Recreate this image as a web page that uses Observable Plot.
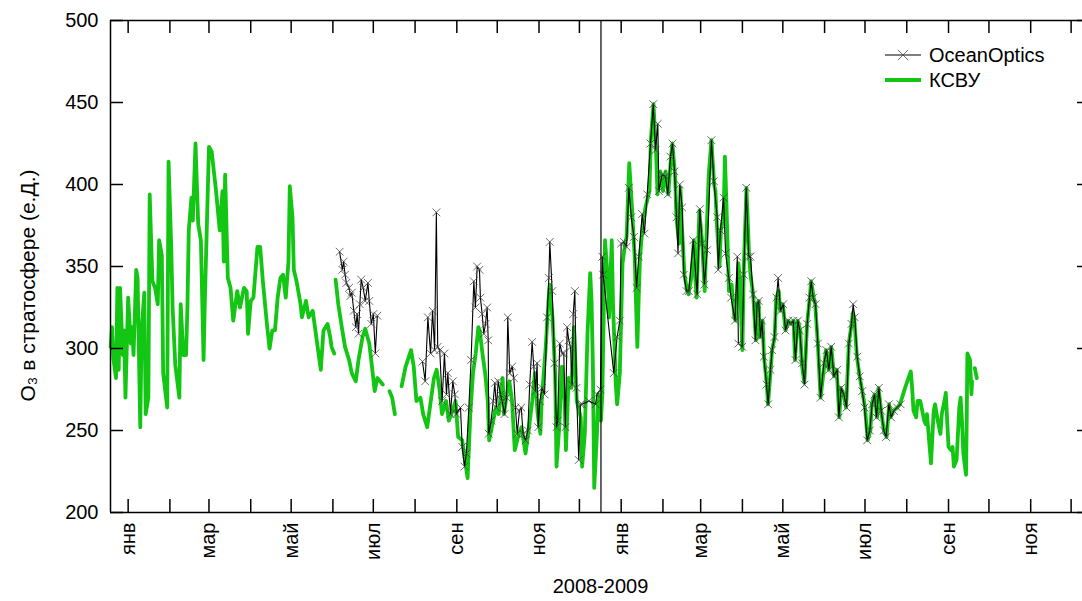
<!DOCTYPE html>
<html><head><meta charset="utf-8">
<script src="https://cdn.jsdelivr.net/npm/d3@7"></script>
<script src="https://cdn.jsdelivr.net/npm/@observablehq/plot@0.6"></script>
<style>html,body{margin:0;padding:0;background:#fff;overflow:hidden}</style>
</head><body><div id="chart"></div>
<script>
// Days counted from 2008-01-01; null = gap in the record
const kDay = [-13,-12,-11,-9,-8,-7,-6,-4,-3,-2,0,2,3,4,6,7,9,10,12,13,15,16,18,20,22,23,25,26,29,30,32,33,35,38,39,41,43,44,45,47,48,50,52,54,56,57,60,62,65,68,70,71,72,74,76,78,81,83,86,88,89,91,93,96,98,100,103,105,107,109,111,113,115,117,119,120,122,123,125,128,129,132,134,137,139,141,143,145,148,150,151,153,153.5,154,156,159,161,164,166,169,171,174,176,179,181,183,185,187,189,191,194,196,198,200,203,206,210,212,214,217,219,222,224,227,229,231,233,236,238,240,243,245,248,250,252,254,256,258,260,261,263,265,267,268,270,273,275,278,279,281,283,285,287,290,292,295,297,300,302,304,306,307,310,312,313,315,317,318,320,322,324,325,327,329,331,333,336,337,339,341,343,344,345,346,348,349,351,352,354,356,357,359,360,361,362,363,365,367,369,370,372,374,376,378,379,380,382,384,387,388,390,392,393,395,397,399,401,403,404,406,407,409,410,411,413,415,416,418,420,421,422,424,426,428,429,431,433,435,436,437,439,440,442,443,444,446,448,450,451,453,454,456,457,459,461,462,464,466,467,468,469,471,472,474,475,477,478,480,481,483,484,486,488,490,492,494,495,497,499,500,502,504,506,507,509,510,512,514,517,518,520,522,524,526,528,529,531,533,535,537,538,539,541,543,545,547,549,551,552,554,556,557,559,561,563,565,566,568,571,573,576,578,581,582,583,585,586,588,589,591,592,593,594,596,597,598,599,601,603,604,606,607,608,609,611,612,613,615,617,618,619,620,622,622.5,623,625,626,626.5,627.5,628.5,630];
const kO3 = [301,313,294,282,337,287,337,296,311,270,331,303,313,296,348,343,252,311,334,260,270,394,341,337,327,366,357,285,264,414,361,325,290,270,327,296,296,325,372,392,378,425,376,366,293,331,423,420,398,372,396,353,406,343,337,317,335,325,337,335,309,329,331,362,362,341,315,300,311,311,331,343,345,331,353,399,380,348,341,327,319,329,319,323,311,299,287,311,315,307,301,297,null,342,327,311,301,293,285,280,293,307,312,303,289,274,282,280,278,null,274,270,260,null,277,289,299,289,268,270,260,252,264,282,287,276,260,268,256,260,268,246,244,232,221,260,285,297,313,311,297,285,268,244,252,264,260,282,260,272,280,268,238,248,252,236,248,268,285,260,248,268,301,329,339,319,285,228,252,289,268,238,282,276,313,268,258,228,248,309,346,329,289,215,248,272,256,272,366,343,319,366,325,303,278,266,285,352,364,368,413,386,356,301,331,356,375,386,396,427,449,417,394,408,396,408,394,417,425,406,380,364,398,376,345,335,333,343,366,343,331,384,366,335,360,406,427,400,396,376,350,372,380,417,392,335,339,319,317,352,343,299,348,398,356,345,333,305,327,329,307,317,295,279,266,287,299,307,331,335,323,327,311,317,315,317,293,317,311,291,279,315,331,341,331,327,303,270,291,299,287,301,283,287,258,276,272,264,303,315,322,319,295,283,274,264,244,250,266,272,258,276,262,250,246,266,258,262,264,266,274,279,286,276,262,258,268,268,264,256,254,260,250,230,246,262,266,256,248,260,268,273,256,240,238,240,228,232,264,270,256,236,223,256,297,293,272,280,null,288,282];

const oDay = [157,159,160,161,162,164,165,166,167.5,169,170,171,172,173,174.5,176,178,179,180.5,182,183.5,185,200,218.5,220.5,222.5,224.5,226,227.5,228.8,229.8,231.3,233.1,234.8,236.3,237.3,239.3,241,242.5,243.7,246.7,248,249.7,251.1,252.9,254.6,256.6,257.8,259.1,260.8,261.5,262.8,264,265.3,266.5,267.3,267.7,269.5,271,272.2,273.4,274.7,276.4,277.6,279.4,280.9,281.8,283.3,285.1,286.3,287.5,288.8,290.5,291.8,293.2,295,296.7,298.1,299.9,301.1,302.4,303.6,304.4,305.6,307.3,309.1,311,312.3,313,314.8,316.5,318,318.9,320.4,322.2,323.4,324.6,325.9,327.1,328.4,329.6,330.4,331.6,332.8,334.5,335.8,337,342,347,348,350.6,352,352.6,360.5,363,365,366,368,370,371.7,373.5,375.5,377.4,379.1,381.6,383.3,385.3,387.8,389.8,391.5,393.2,394,396.4,398.9,400.6,402.6,404.1,405.6,407.1,408.2,409.5,411.3,412.5,414.5,416.2,419.5,422.4,424.4,426.1,427.8,429.8,433,434.8,437.3,438,439.7,442,443.5,445.9,447.6,450.5,452.2,453,455.8,457,458.8,460.7,462,463.9,465.7,466.9,468.1,469.4,470.6,471.9,473.9,475.1,476.8,478.1,479.8,481.3,482.5,484.3,486.3,488,490,491.7,493.7,495.4,497.2,498.6,500.3,502.1,504.1,505.8,507.1,508.5,510.3,512,514,516.5,518.4,520.2,521.9,523.9,526.4,527.6,529.3,531.3,533.3,535,537,538.2,539.4,541.2,543.1,544.9,546.6,548.6,550.6,552.3,554.1,555.5,557.3,559,561,562.7,564.7,566.4,568.4,570.9,573.4];
const oO3 = [359,348,353,345,340,337,332,334,323,313,321,309,327,342,337,329,340,329,315,321,297,320,null,292,280,319,297,323,299,383,301,299,268,297,272,285,260,280,272,260,264,240,228,236,264,293,341,325,350,348,331,321,309,315,325,305,248,256,268,279,264,280,272,268,260,270,319,285,289,282,264,248,262,264,248,244,250,278,304,289,274,291,252,268,276,272,319,343,365,335,291,252,256,303,297,297,252,313,305,301,278,321,335,276,232,266,266,268,266,272,275,356,345,285,307,317,364,365,362,398,380,368,337,356,382,370,394,425,449,421,437,396,406,405,394,417,425,408,380,358,400,386,345,335,335,366,333,385,364,339,360,427,402,380,348,372,392,358,343,331,317,356,303,301,345,398,356,356,333,305,327,329,307,317,295,278,266,287,299,307,331,343,323,327,311,317,315,317,293,317,311,291,278,315,331,341,331,327,303,270,291,299,287,301,283,287,258,276,272,264,303,315,327,319,295,283,274,264,244,250,266,272,258,276,262,250,246,266,258,262,264,266];

const yTicks = [200, 250, 300, 350, 400, 450, 500];
const monthNames = ["янв","фев","мар","апр","май","июн","июл","авг","сен","окт","ноя","дек"];
const labelMonths = [0, 2, 4, 6, 8, 10];
const labelYears = [2008, 2009];
const dividerDay = 351;
const domainDays = [-13.1, 714.4];
const seriesNames = ["OceanOptics", "КСВУ"];
const yTitle = "O₃ в стратосфере (е.Д.)";
const xTitle = "2008-2009";

const GREEN = "#14c614";
const FONT = "'Liberation Sans', Arial, sans-serif";
const FS = 20;
const t0 = Date.UTC(2008, 0, 1);
const toDate = d => new Date(t0 + d * 864e5);

const ksvu = kDay.map((d, i) => ({date: toDate(d), o3: kO3[i]}));
const ocean = oDay.map((d, i) => ({date: toDate(d), o3: oO3[i]}));
const monthTicks = d3.utcMonths(new Date(Date.UTC(2008, 0, 1)), new Date(Date.UTC(2009, 11, 2)));
const labelTicks = labelYears.flatMap(y => labelMonths.map(m => new Date(Date.UTC(y, m, 1))));

const W = 1082, H = 601, ML = 110, MR = 0, MT = 20, MB = 89;
const FW = W - ML - MR, FH = H - MT - MB;

const chart = Plot.plot({
  width: W, height: H,
  marginLeft: ML, marginRight: MR, marginTop: MT, marginBottom: MB,
  style: {fontFamily: FONT, fontSize: FS + "px", color: "#000", background: "#fff"},
  x: {type: "utc", domain: domainDays.map(toDate), range: [ML, 1090]},
  y: {domain: [200, 500]},
  marks: [
    Plot.line(ksvu, {x: "date", y: "o3", stroke: GREEN, strokeWidth: 3.8, strokeLinejoin: "round"}),
    Plot.line(ocean, {x: "date", y: "o3", stroke: "#000", strokeWidth: 1.1}),
    Plot.dot(ocean, {x: "date", y: "o3", symbol: "times", r: 3.6, stroke: "#444", strokeWidth: 0.8}),
    Plot.ruleX([toDate(dividerDay)], {stroke: "#000", strokeWidth: 1.2}),
    Plot.ruleY([200, 500], {stroke: "#000", strokeWidth: 1.5}),
    Plot.ruleX([toDate(domainDays[0])], {stroke: "#000", strokeWidth: 1.5}),
    Plot.tickY(yTicks, {y: d => d, insetRight: FW - 13, stroke: "#000", strokeWidth: 1.5}),
    Plot.tickY(yTicks, {y: d => d, insetLeft: FW - 5, stroke: "#000", strokeWidth: 1.5}),
    Plot.tickX(monthTicks, {x: d => d, insetTop: FH - 13, stroke: "#000", strokeWidth: 1.5}),
    Plot.tickX(monthTicks, {x: d => d, insetBottom: FH - 13, stroke: "#000", strokeWidth: 1.5}),
    Plot.axisY({ticks: yTicks, tickSize: 0, tickPadding: 12, label: null, fontSize: FS}),
    Plot.axisX({ticks: labelTicks, tickSize: 0, tickPadding: 10, tickRotate: -90, label: null, fontSize: FS,
      tickFormat: d => monthNames[d.getUTCMonth()]}),
    Plot.text([xTitle], {text: d => d, frameAnchor: "bottom", dy: 80, dx: 4, fontSize: FS, textAnchor: "middle"}),
    Plot.text([yTitle], {text: d => d, frameAnchor: "left", rotate: -90, dx: -82, dy: 19, fontSize: 21, textAnchor: "middle"})
  ]
});
document.getElementById("chart").appendChild(chart);

// legend
const svg = d3.select(chart);
const lg = svg.append("g").attr("font-family", FONT).attr("font-size", FS).attr("text-anchor", "start");
lg.append("line").attr("x1", 885).attr("x2", 921).attr("y1", 55).attr("y2", 55).attr("stroke", "#000").attr("stroke-width", 1.1);
lg.append("path").attr("d", d3.symbol(d3.symbolTimes, 70)()).attr("transform", "translate(903,55)").attr("stroke", "#444").attr("fill", "none").attr("stroke-width", 0.8);
lg.append("text").attr("x", 929).attr("y", 55).attr("dy", "0.35em").attr("text-anchor", "start").text(seriesNames[0]);
lg.append("line").attr("x1", 885).attr("x2", 921).attr("y1", 80).attr("y2", 80).attr("stroke", GREEN).attr("stroke-width", 3.8);
lg.append("text").attr("x", 929).attr("y", 80).attr("dy", "0.35em").attr("text-anchor", "start").text(seriesNames[1]);
</script></body></html>
